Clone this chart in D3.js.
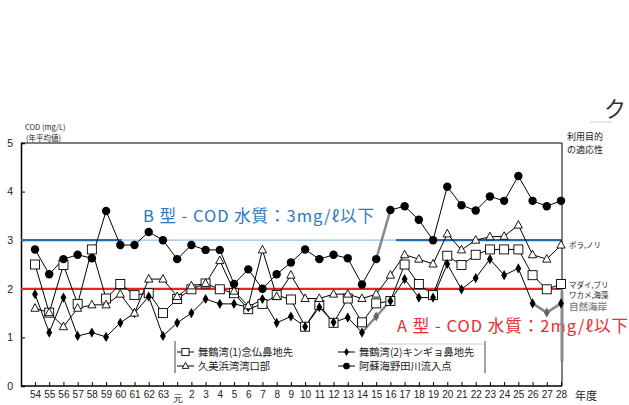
<!DOCTYPE html>
<html>
<head>
<meta charset="utf-8">
<script src="https://cdn.jsdelivr.net/npm/d3@7"></script>
<style>
  body { margin: 0; background: #fff; }
  svg { display: block; font-family: "Noto Sans CJK JP", "DejaVu Sans", sans-serif; }
</style>
</head>
<body>
<svg id="chart" width="629" height="405"></svg>
<script>
// 年度 labels (昭和54 .. 平成28)
var years = ["54","55","56","57","58","59","60","61","62","63","元",
  "2","3","4","5","6","7","8","9","10","11","12","13","14","15","16",
  "17","18","19","20","21","22","23","24","25","26","27","28"];

// 舞鶴湾(1)念仏鼻地先  (open square)
var maizuru1 = [2.50,1.51,2.49,1.69,2.81,1.80,2.10,1.87,1.91,1.50,1.79,
  1.99,2.11,1.99,1.91,1.58,1.69,1.87,1.78,1.22,1.67,1.30,1.80,1.31,1.70,1.75,
  2.50,2.10,1.87,2.68,2.49,2.70,2.81,2.81,2.81,2.28,1.99,2.10];

// 舞鶴湾(2)キンギョ鼻地先  (filled diamond)
var maizuru2 = [1.89,1.10,1.82,1.03,1.10,1.01,1.30,1.50,1.84,1.03,1.30,
  1.50,1.79,1.69,1.69,1.62,1.79,1.30,1.43,1.22,1.62,1.31,1.41,1.10,1.43,1.75,
  2.20,1.82,1.82,2.51,1.99,2.22,2.61,2.28,2.42,1.70,1.51,1.70];

// 久美浜湾湾口部  (open triangle)
var kumihama = [1.60,1.51,1.22,1.60,1.67,1.67,1.89,1.50,2.20,2.20,1.84,
  2.06,2.11,2.58,1.95,1.65,2.80,1.84,2.28,1.80,1.80,1.89,1.89,1.80,1.89,2.28,
  2.70,2.61,2.51,3.13,2.80,3.00,3.07,3.08,3.31,2.70,2.61,2.90];

// 阿蘇海野田川流入点  (filled circle)
var asokai = [2.81,2.30,2.61,2.70,2.63,3.60,2.90,2.90,3.17,3.00,2.61,
  2.90,2.80,2.80,2.10,2.40,2.00,2.30,2.54,2.81,2.61,2.70,2.63,2.09,2.61,3.62,
  3.70,3.42,3.00,4.10,3.72,3.61,3.90,3.81,4.32,3.81,3.70,3.81];

var yTicks = [0, 1, 2, 3, 4, 5];

var series = [
  {name: "舞鶴湾(1)念仏鼻地先", values: maizuru1, shape: "square"},
  {name: "舞鶴湾(2)キンギョ鼻地先", values: maizuru2, shape: "diamond"},
  {name: "久美浜湾湾口部", values: kumihama, shape: "triangle"},
  {name: "阿蘇海野田川流入点", values: asokai, shape: "circle"}
];

var svg = d3.select("#chart");

var margin = {top: 143, right: 68, bottom: 19, left: 21};
var width = 629, height = 405;

var x = d3.scalePoint()
  .domain(years)
  .range([35, 561]);

var y = d3.scaleLinear()
  .domain([0, 5])
  .range([height - margin.bottom, margin.top]);

var plotRight = width - margin.right + 1;

// frame
svg.append("path")
  .attr("d", `M${margin.left},${y(5)}H${plotRight}V${y(0)}`)
  .attr("fill", "none")
  .attr("stroke", "#000")
  .attr("stroke-width", 1);

// x axis
var xAxis = svg.append("g")
  .attr("transform", `translate(0,${y(0)})`)
  .call(d3.axisBottom(x).tickSize(-4).tickPadding(5));
xAxis.select(".domain").remove();
xAxis.append("line")
  .attr("x1", margin.left).attr("x2", plotRight)
  .attr("stroke", "#000").attr("stroke-width", 1.5);
xAxis.selectAll("text")
  .attr("fill", "#222")
  .attr("font-size", 10)
  .attr("dy", d => d == "元" ? "1.05em" : "0.71em");

// y axis
var yAxis = svg.append("g")
  .attr("transform", `translate(${margin.left},0)`)
  .call(d3.axisLeft(y).tickValues(yTicks).tickFormat(d3.format("d")).tickSize(-4).tickPadding(8));
yAxis.select(".domain").attr("stroke-width", 1.5);
yAxis.selectAll("text").attr("fill", "#222").attr("font-size", 10.5);

// axis titles
svg.append("text").attr("x", 25).attr("y", 130)
  .attr("font-size", 7.5).attr("fill", "#222").text("COD (mg/L)");
svg.append("text").attr("x", 26).attr("y", 141)
  .attr("font-size", 7.5).attr("fill", "#222").text("(年平均値)");
svg.append("text").attr("x", 575).attr("y", 400)
  .attr("font-size", 11).attr("fill", "#222").text("年度");

// environmental standard lines
var bLightFrom = 6.1, bLightTo = 25.4;   // pale stretch of the B line (index units)
var step = x.step();
svg.append("line")
  .attr("x1", margin.left).attr("x2", x(years[0]) + bLightFrom * step)
  .attr("y1", y(3)).attr("y2", y(3))
  .attr("stroke", "#1f6db5").attr("stroke-width", 2.2);
svg.append("line")
  .attr("x1", x(years[0]) + bLightFrom * step).attr("x2", x(years[0]) + bLightTo * step)
  .attr("y1", y(3)).attr("y2", y(3))
  .attr("stroke", "#8ec2ea").attr("stroke-width", 1.2);
svg.append("line")
  .attr("x1", x(years[0]) + bLightTo * step).attr("x2", plotRight)
  .attr("y1", y(3)).attr("y2", y(3))
  .attr("stroke", "#1f6db5").attr("stroke-width", 2.2);

svg.append("line")
  .attr("x1", margin.left).attr("x2", plotRight)
  .attr("y1", y(2)).attr("y2", y(2))
  .attr("stroke", "#e8242a").attr("stroke-width", 2.2);

svg.append("text")
  .attr("x", 143).attr("y", 222)
  .attr("font-size", 16.5).attr("fill", "#2a78c4")
  .attr("textLength", 231).attr("lengthAdjust", "spacing")
  .text("B 型 - COD 水質：3mg/ℓ以下");

svg.append("text")
  .attr("x", 397).attr("y", 332)
  .attr("font-size", 16.5).attr("fill", "#ee2a2e")
  .attr("textLength", 231).attr("lengthAdjust", "spacing")
  .text("A 型 - COD 水質：2mg/ℓ以下");

// gray vertical bar at the right edge
svg.append("line")
  .attr("x1", plotRight).attr("x2", plotRight)
  .attr("y1", y(1.95)).attr("y2", y(0.5))
  .attr("stroke", "#8a8a8a").attr("stroke-width", 3);

// data lines
var line = d3.line()
  .x((d, i) => x(years[i]))
  .y(d => y(d));

// segments that look greyed in the original figure
var greySegs = {
  "舞鶴湾(2)キンギョ鼻地先": [23, 24, 35, 36],
  "阿蘇海野田川流入点": [24]
};

series.forEach(s => {
  svg.append("path")
    .datum(s.values)
    .attr("fill", "none")
    .attr("stroke", "#000")
    .attr("stroke-width", 1)
    .attr("d", line);
  (greySegs[s.name] || []).forEach(i => {
    svg.append("line")
      .attr("x1", x(years[i])).attr("y1", y(s.values[i]))
      .attr("x2", x(years[i + 1])).attr("y2", y(s.values[i + 1]))
      .attr("stroke", "#888").attr("stroke-width", 2.5);
  });
});

function drawMarker(g, shape, cx, cy, color, k) {
  k = k || 1;
  if (shape == "circle") {
    g.append("circle").attr("cx", cx).attr("cy", cy).attr("r", 4.2 * k)
      .attr("fill", color);
  } else if (shape == "diamond") {
    g.append("path")
      .attr("d", d3.symbol().type(d3.symbolDiamond).size(30 * k * k)())
      .attr("transform", `translate(${cx},${cy})`)
      .attr("fill", color);
  } else if (shape == "square") {
    var h = 4.5 * k;
    g.append("rect").attr("x", cx - h).attr("y", cy - h)
      .attr("width", 2 * h).attr("height", 2 * h)
      .attr("fill", "#fff").attr("stroke", color).attr("stroke-width", 0.9);
  } else {
    g.append("path")
      .attr("d", `M0,${-4.6 * k}L${4.1 * k},${3 * k}L${-4.1 * k},${3 * k}Z`)
      .attr("transform", `translate(${cx},${cy})`)
      .attr("fill", "#fff").attr("stroke", color).attr("stroke-width", 0.9);
  }
}

series.forEach(s => {
  var g = svg.append("g");
  s.values.forEach((v, i) => {
    var grey = s.shape == "diamond" && (i == 24 || i == 36);
    drawMarker(g, s.shape, x(years[i]), y(v), grey ? "#666" : "#000");
  });
});

// right-hand labels (利用目的の適応性)
var rightLabels = svg.append("g").attr("fill", "#222").attr("font-size", 9);
rightLabels.append("text").attr("x", 567).attr("y", 140).text("利用目的");
rightLabels.append("text").attr("x", 567).attr("y", 153).text("の適応性");
rightLabels.append("text").attr("x", 569).attr("y", 248).attr("font-size", 7.5).text("ボラ,ノリ");
rightLabels.append("text").attr("x", 569).attr("y", 288).attr("font-size", 7.5).text("マダイ,ブリ");
rightLabels.append("text").attr("x", 569).attr("y", 298).attr("font-size", 7.5).text("ワカメ,海藻");
svg.append("text").attr("x", 569).attr("y", 310)
  .attr("font-size", 9.5).attr("font-weight", "bold")
  .attr("fill", "#777").attr("opacity", 0.85).text("自然海岸");

svg.append("text").attr("x", 604).attr("y", 117)
  .attr("font-size", 22).attr("fill", "#333").text("ク");
svg.append("line").attr("x1", 590).attr("x2", 612).attr("y1", 122).attr("y2", 122)
  .attr("stroke", "#ccc").attr("stroke-width", 1);

// legend
var legend = svg.append("g").attr("font-size", 10.3).attr("fill", "#222");
legend.append("line").attr("x1", 175).attr("x2", 175).attr("y1", 341).attr("y2", 373)
  .attr("stroke", "#444");
legend.append("line").attr("x1", 485).attr("x2", 485).attr("y1", 341).attr("y2", 373)
  .attr("stroke", "#444");
legend.append("line").attr("x1", 378).attr("x2", 485).attr("y1", 344).attr("y2", 344)
  .attr("stroke", "#ccc");

var legendPos = [
  {lx: 177, ty: 352},
  {lx: 338, ty: 352},
  {lx: 177, ty: 366},
  {lx: 338, ty: 366}
];
series.forEach((s, i) => {
  var p = legendPos[i];
  var item = legend.append("g");
  item.append("line").attr("x1", p.lx).attr("x2", p.lx + 17)
    .attr("y1", p.ty).attr("y2", p.ty).attr("stroke", "#000");
  drawMarker(item, s.shape, p.lx + 8.5, p.ty, "#000", 0.8);
  item.append("text").attr("x", p.lx + 21).attr("y", p.ty + 3.5).text(s.name);
});
</script>
</body>
</html>
